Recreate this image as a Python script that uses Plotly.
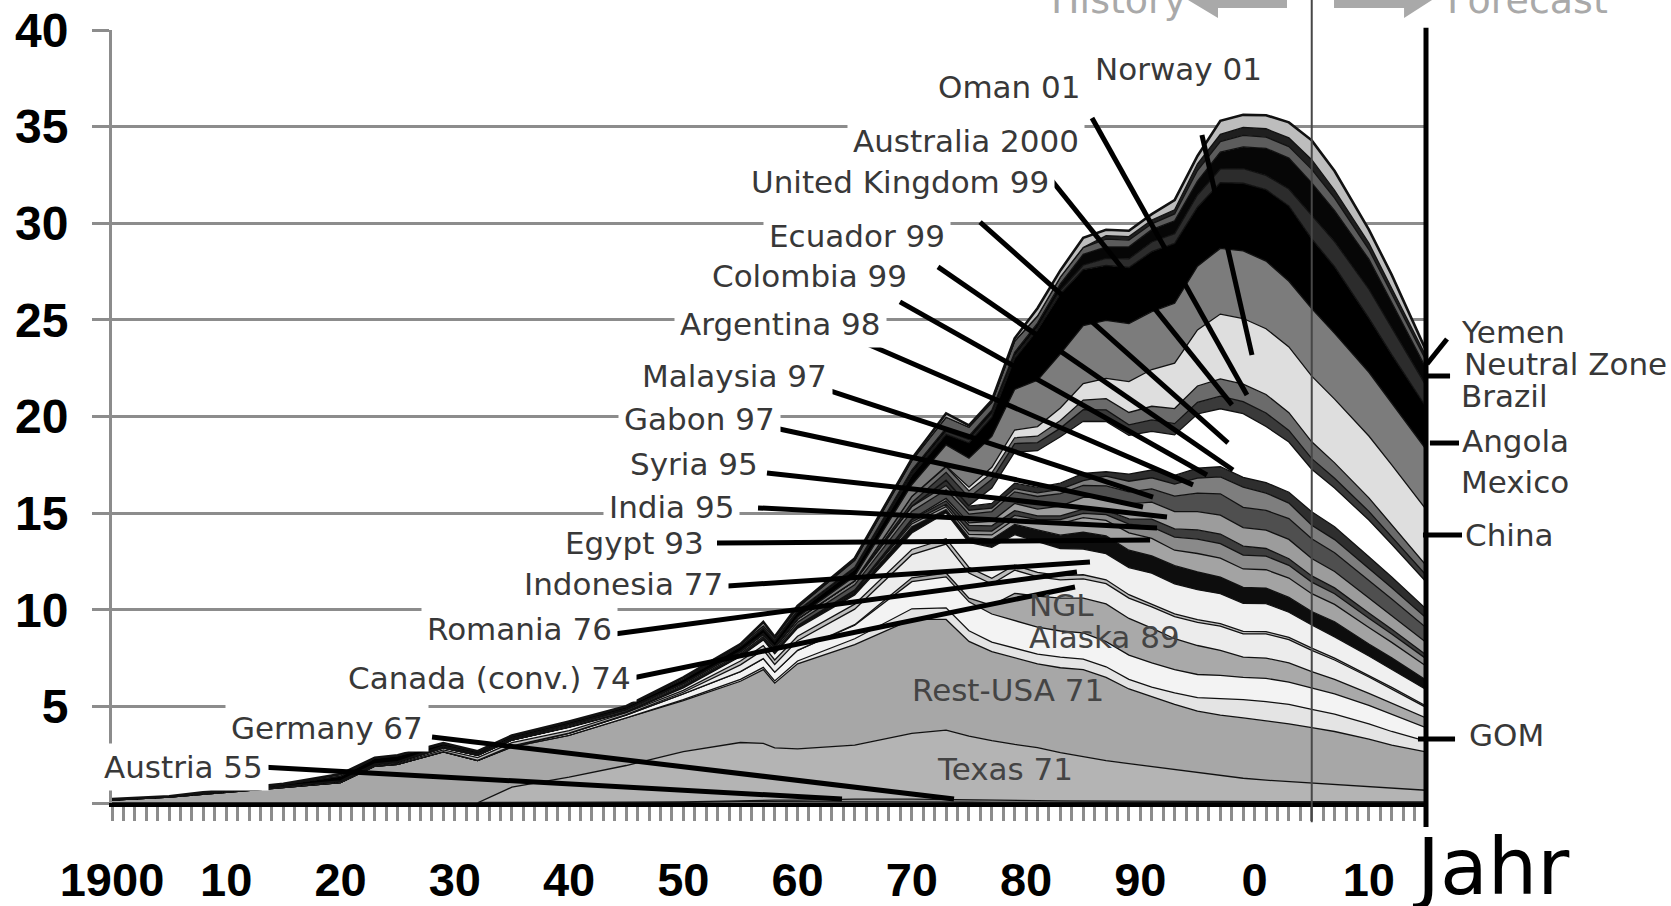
import plotly.graph_objects as go

# ---------------- data (Mb/d) ----------------
YEARS = [1900, 1905, 1910, 1915, 1920, 1923, 1925, 1929, 1932, 1935,
         1940, 1945, 1950, 1955, 1957, 1958, 1960, 1965, 1970, 1973,
         1975, 1977, 1979, 1981, 1983, 1985, 1987, 1989, 1991, 1993,
         1995, 1997, 1999, 2001, 2003, 2005, 2007, 2010, 2012, 2015]

austria = [0, 0, 0, 0, 0, 0, 0, 0, 0, 0.01,
           0.02, 0.02, 0.03, 0.07, 0.07, 0.07, 0.05, 0.05, 0.05, 0.04,
           0.04, 0.03, 0.03, 0.03, 0.03, 0.02, 0.02, 0.02, 0.02, 0.02,
           0.02, 0.02, 0.02, 0.02, 0.02, 0.02, 0.02, 0.02, 0.02, 0.02]
germany = [0.01, 0.01, 0.01, 0.01, 0.01, 0.01, 0.01, 0.01, 0.01, 0.01,
           0.02, 0.02, 0.03, 0.06, 0.07, 0.08, 0.10, 0.15, 0.15, 0.13,
           0.12, 0.10, 0.10, 0.09, 0.08, 0.08, 0.07, 0.07, 0.07, 0.06,
           0.06, 0.06, 0.06, 0.06, 0.06, 0.06, 0.05, 0.05, 0.05, 0.04]
texas = [0, 0, 0, 0, 0, 0, 0, 0, 0, 0.8,
         1.3, 1.9, 2.6, 3.0, 2.95, 2.7, 2.65, 2.8, 3.4, 3.6,
         3.3, 3.1, 2.9, 2.75, 2.5, 2.3, 2.1, 1.95, 1.8, 1.65,
         1.5, 1.38, 1.2, 1.1, 1.02, 0.95, 0.88, 0.78, 0.7, 0.6]
rest_usa = [0.14, 0.29, 0.54, 0.79, 1.04, 1.89, 1.99, 2.64, 2.19, 2.08,
            2.16, 2.46, 2.64, 3.17, 3.81, 3.35, 4.4, 5.2, 5.9, 5.73,
            4.9, 4.6, 4.47, 4.33, 4.39, 4.5, 4.31, 3.86, 3.61, 3.37,
            3.17, 3.09, 3.12, 3.07, 3.0, 2.87, 2.75, 2.45, 2.23, 1.99]
gom = [0, 0, 0, 0, 0, 0, 0, 0, 0, 0,
       0, 0, 0.05, 0.1, 0.12, 0.12, 0.15, 0.3, 0.55, 0.6,
       0.55, 0.5, 0.5, 0.5, 0.55, 0.55, 0.55, 0.5, 0.5, 0.6,
       0.7, 0.85, 0.95, 1.0, 1.0, 0.95, 0.9, 0.8, 0.7, 0.55]
ngl = [0, 0, 0, 0, 0, 0, 0, 0, 0, 0.03,
       0.1, 0.15, 0.3, 0.4, 0.45, 0.45, 0.55, 0.7, 1.4, 1.6,
       1.5, 1.45, 1.45, 1.4, 1.35, 1.35, 1.3, 1.25, 1.25, 1.2,
       1.2, 1.2, 1.15, 1.2, 1.15, 1.1, 1.05, 0.95, 0.9, 0.7]
alaska = [0, 0, 0, 0, 0, 0, 0, 0, 0, 0,
          0, 0, 0, 0, 0, 0, 0, 0.03, 0.2, 0.2,
          0.19, 0.45, 1.4, 1.6, 1.7, 1.8, 1.95, 1.9, 1.8, 1.6,
          1.5, 1.3, 1.05, 1.05, 1.0, 0.85, 0.75, 0.62, 0.55, 0.5]
canada = [0, 0, 0.005, 0.005, 0.005, 0.005, 0.005, 0.003, 0.003, 0.02,
          0.02, 0.02, 0.08, 0.35, 0.45, 0.4, 0.5, 0.8, 1.2, 1.5,
          1.3, 1.1, 1.2, 1.0, 0.95, 1.0, 1.05, 1.05, 1.1, 1.15,
          1.2, 1.25, 1.2, 1.25, 1.2, 1.1, 1.0, 0.85, 0.75, 0.55]
romania = [0.005, 0.01, 0.03, 0.03, 0.02, 0.03, 0.045, 0.09, 0.15, 0.17,
           0.12, 0.1, 0.1, 0.2, 0.22, 0.23, 0.23, 0.26, 0.27, 0.28,
           0.29, 0.3, 0.25, 0.23, 0.22, 0.21, 0.2, 0.18, 0.14, 0.14,
           0.14, 0.13, 0.13, 0.12, 0.12, 0.11, 0.1, 0.09, 0.08, 0.07]
indonesia = [0.005, 0.02, 0.03, 0.03, 0.05, 0.06, 0.06, 0.1, 0.11, 0.13,
             0.17, 0.02, 0.13, 0.23, 0.3, 0.32, 0.42, 0.48, 0.85, 1.34,
             1.3, 1.6, 1.59, 1.6, 1.4, 1.33, 1.35, 1.4, 1.6, 1.55,
             1.55, 1.55, 1.45, 1.45, 1.3, 1.2, 1.1, 1.0, 0.95, 0.85]
egypt = [0, 0, 0, 0.002, 0.003, 0.003, 0.003, 0.005, 0.005, 0.004,
         0.02, 0.03, 0.05, 0.04, 0.05, 0.06, 0.07, 0.13, 0.33, 0.17,
         0.24, 0.42, 0.53, 0.6, 0.69, 0.88, 0.92, 0.9, 0.9, 0.94,
         0.92, 0.86, 0.83, 0.8, 0.77, 0.7, 0.78, 0.62, 0.58, 0.5]
india = [0, 0, 0.005, 0.005, 0.005, 0.005, 0.005, 0.005, 0.005, 0.005,
         0.005, 0.005, 0.005, 0.005, 0.01, 0.01, 0.01, 0.07, 0.14, 0.15,
         0.17, 0.22, 0.27, 0.35, 0.6, 0.75, 0.8, 0.9, 0.9, 0.8,
         0.95, 0.98, 0.95, 0.95, 1.0, 0.92, 0.9, 0.85, 0.8, 0.72]
syria = [0, 0, 0, 0, 0, 0, 0, 0, 0, 0,
         0, 0, 0, 0, 0, 0, 0, 0, 0.1, 0.12,
         0.2, 0.2, 0.19, 0.18, 0.2, 0.22, 0.3, 0.45, 0.6, 0.68,
         0.75, 0.75, 0.72, 0.7, 0.66, 0.6, 0.55, 0.48, 0.44, 0.38]
gabon = [0, 0, 0, 0, 0, 0, 0, 0, 0, 0,
         0, 0, 0, 0, 0, 0, 0.02, 0.03, 0.12, 0.18,
         0.27, 0.27, 0.25, 0.2, 0.2, 0.22, 0.22, 0.27, 0.4, 0.42,
         0.47, 0.5, 0.46, 0.4, 0.34, 0.32, 0.3, 0.27, 0.24, 0.2]
malaysia = [0, 0, 0, 0.005, 0.005, 0.01, 0.01, 0.01, 0.01, 0.01,
            0.01, 0.005, 0.02, 0.015, 0.015, 0.015, 0.03, 0.02, 0.03, 0.12,
            0.13, 0.24, 0.37, 0.35, 0.5, 0.6, 0.67, 0.78, 0.88, 0.9,
            0.95, 0.98, 0.96, 0.95, 1.0, 0.9, 0.85, 0.78, 0.72, 0.65]
argentina = [0, 0, 0, 0, 0.005, 0.01, 0.015, 0.025, 0.035, 0.04,
             0.06, 0.07, 0.07, 0.09, 0.09, 0.1, 0.18, 0.27, 0.4, 0.45,
             0.45, 0.5, 0.6, 0.65, 0.65, 0.62, 0.6, 0.62, 0.68, 0.8,
             0.95, 1.1, 1.05, 1.02, 1.08, 1.02, 0.97, 0.9, 0.85, 0.76]
colombia = [0, 0, 0, 0, 0, 0.001, 0.003, 0.055, 0.045, 0.05,
            0.07, 0.06, 0.09, 0.11, 0.13, 0.13, 0.15, 0.2, 0.25, 0.22,
            0.2, 0.18, 0.17, 0.19, 0.22, 0.25, 0.5, 0.55, 0.58, 0.62,
            0.78, 0.88, 1.05, 0.9, 0.8, 0.7, 0.68, 0.63, 0.58, 0.5]
ecuador = [0, 0, 0, 0, 0, 0, 0, 0.005, 0.005, 0.005,
           0.006, 0.007, 0.007, 0.008, 0.008, 0.008, 0.008, 0.008, 0.005, 0.27,
           0.21, 0.24, 0.28, 0.28, 0.32, 0.37, 0.23, 0.37, 0.4, 0.45,
           0.52, 0.52, 0.5, 0.54, 0.56, 0.7, 0.67, 0.6, 0.55, 0.47]
uk = [0, 0, 0, 0, 0, 0, 0, 0, 0, 0,
      0, 0, 0, 0, 0, 0, 0, 0, 0.01, 0.01,
      0.03, 0.8, 1.6, 1.9, 2.4, 2.7, 2.6, 2.0, 2.0, 2.1,
      2.8, 3.0, 3.3, 2.9, 2.6, 2.2, 2.0, 1.9, 1.7, 1.4]
australia = [0, 0, 0, 0, 0, 0, 0, 0, 0, 0,
             0, 0, 0, 0, 0, 0, 0, 0.005, 0.18, 0.4,
             0.42, 0.45, 0.45, 0.42, 0.45, 0.6, 0.6, 0.55, 0.6, 0.58,
             0.6, 0.65, 0.62, 0.7, 0.6, 0.55, 0.5, 0.45, 0.4, 0.35]
oman = [0, 0, 0, 0, 0, 0, 0, 0, 0, 0,
        0, 0, 0, 0, 0, 0, 0, 0, 0.33, 0.29,
        0.34, 0.34, 0.3, 0.33, 0.39, 0.5, 0.58, 0.64, 0.7, 0.78,
        0.85, 0.9, 0.9, 0.96, 0.92, 0.87, 0.8, 0.7, 0.61, 0.5]
norway = [0, 0, 0, 0, 0, 0, 0, 0, 0, 0,
          0, 0, 0, 0, 0, 0, 0, 0, 0.005, 0.03,
          0.19, 0.28, 0.4, 0.5, 0.65, 0.85, 1.05, 1.6, 1.9, 2.35,
          2.9, 3.35, 3.4, 3.4, 3.4, 3.4, 3.3, 3.2, 3.1, 2.9]
china = [0, 0, 0, 0, 0, 0, 0, 0, 0, 0,
         0, 0, 0, 0, 0.03, 0.05, 0.1, 0.23, 0.6, 1.1,
         1.5, 1.6, 2.1, 2.4, 2.8, 3.0, 3.0, 3.0, 3.0, 3.1,
         3.3, 3.4, 3.5, 3.5, 3.4, 3.5, 3.4, 3.3, 3.2, 3.1]
mexico = [0, 0.002, 0.01, 0.09, 0.25, 0.3, 0.3, 0.12, 0.09, 0.11,
          0.12, 0.12, 0.2, 0.25, 0.24, 0.27, 0.27, 0.36, 0.49, 0.55,
          0.8, 1.0, 1.6, 2.6, 3.1, 2.9, 2.85, 2.9, 3.1, 3.1,
          3.05, 3.4, 3.5, 3.7, 3.9, 3.6, 3.45, 2.8, 2.5, 2.2]
angola = [0, 0, 0, 0, 0, 0, 0, 0, 0, 0,
          0, 0, 0, 0, 0, 0.001, 0.001, 0.013, 0.1, 0.16,
          0.17, 0.2, 0.15, 0.13, 0.18, 0.23, 0.36, 0.45, 0.5, 0.5,
          0.63, 0.71, 0.75, 0.74, 0.87, 1.2, 1.3, 1.5, 1.4, 1.1]
brazil = [0, 0, 0, 0, 0, 0, 0, 0, 0, 0,
          0.001, 0.001, 0.001, 0.006, 0.03, 0.05, 0.08, 0.09, 0.16, 0.17,
          0.18, 0.16, 0.17, 0.22, 0.34, 0.56, 0.6, 0.62, 0.64, 0.67,
          0.72, 0.87, 1.13, 1.4, 1.6, 1.7, 1.6, 1.55, 1.3, 0.9]
neutral_zone = [0, 0, 0, 0, 0, 0, 0, 0, 0, 0,
                0, 0, 0, 0.1, 0.12, 0.14, 0.15, 0.36, 0.5, 0.55,
                0.45, 0.4, 0.57, 0.37, 0.35, 0.35, 0.4, 0.35, 0.3, 0.35,
                0.55, 0.55, 0.6, 0.58, 0.6, 0.7, 0.65, 0.5, 0.45, 0.4]
yemen = [0, 0, 0, 0, 0, 0, 0, 0, 0, 0,
         0, 0, 0, 0, 0, 0, 0, 0, 0, 0,
         0, 0, 0, 0, 0, 0.01, 0.18, 0.18, 0.2, 0.22,
         0.35, 0.37, 0.41, 0.43, 0.45, 0.5, 0.4, 0.33, 0.28, 0.22]
others = [0.04, 0.02, 0.07, 0.03, 0.1, 0.02, 0.02, 0.03, 0.02, 0.02,
          0.02, 0.02, 0.1, 0.02, 0.2, 0.05, 0.08, 0.1, 0.1, 0.2,
          0.1, 0.1, 0.15, 0.4, 0.35, 0.5, 0.3, 0.3, 0.3, 0.5,
          0.4, 0.7, 0.65, 0.7, 0.8, 1.0, 1.0, 0.7, 0.7, 0.3]

X_TICKS = [1900, 1910, 1920, 1930, 1940, 1950, 1960, 1970, 1980, 1990, 2000, 2010]
X_TICK_TEXT = ["1900", "10", "20", "30", "40", "50", "60", "70", "80", "90", "0", "10"]
Y_TICKS = [0, 5, 10, 15, 20, 25, 30, 35, 40]
Y_TICK_TEXT = ["", "5", "10", "15", "20", "25", "30", "35", "40"]
X_RANGE = [1900, 2015]
FORECAST_START = 2005

# stacking order (bottom -> top) and fill shades
BANDS = [
    ("Austria", austria, "#8c8c8c"),
    ("Germany", germany, "#8c8c8c"),
    ("Texas", texas, "#b4b4b4"),
    ("Rest-USA", rest_usa, "#a7a7a7"),
    ("GOM", gom, "#e4e4e4"),
    ("NGL", ngl, "#f3f3f3"),
    ("Alaska", alaska, "#a9a9a9"),
    ("Canada (conv.)", canada, "#ececec"),
    ("Romania", romania, "#bdbdbd"),
    ("Indonesia", indonesia, "#f0f0f0"),
    ("Egypt", egypt, "#0d0d0d"),
    ("India", india, "#a3a3a3"),
    ("Syria", syria, "#8a8a8a"),
    ("Gabon", gabon, "#3d3d3d"),
    ("Malaysia", malaysia, "#9c9c9c"),
    ("Argentina", argentina, "#4f4f4f"),
    ("Colombia", colombia, "#7e7e7e"),
    ("Ecuador", ecuador, "#2e2e2e"),
    ("United Kingdom", uk, "#ffffff"),
    ("Australia", australia, "#3a3a3a"),
    ("Oman", oman, "#6b6b6b"),
    ("Norway", norway, "#dedede"),
    ("China", china, "#7c7c7c"),
    ("Mexico", mexico, "#000000"),
    ("Angola", angola, "#2c2c2c"),
    ("Brazil", brazil, "#060606"),
    ("Neutral Zone", neutral_zone, "#5c5c5c"),
    ("Yemen", yemen, "#1f1f1f"),
    ("Others", others, "#bdbdbd"),
]

# label text (x = right edge unless noted, y = centre), data coordinates
LEFT_LABELS = [
    ("Oman 01", 1985.33, 37.05, "right"),
    ("Norway 01", 1985.51, 37.98, "left"),
    ("Australia 2000", 1985.16, 34.26, "right"),
    ("United Kingdom 99", 1982.53, 32.13, "right"),
    ("Ecuador 99", 1973.43, 29.34, "right"),
    ("Colombia 99", 1970.10, 27.27, "right"),
    ("Argentina 98", 1967.83, 24.79, "right"),
    ("Malaysia 97", 1963.10, 22.10, "right"),
    ("Gabon 97", 1958.55, 19.87, "right"),
    ("Syria 95", 1957.06, 17.54, "right"),
    ("India 95", 1954.96, 15.32, "right"),
    ("Egypt 93", 1952.34, 13.45, "right"),
    ("Indonesia 77", 1954.00, 11.33, "right"),
    ("Romania 76", 1944.28, 9.00, "right"),
    ("Canada (conv.) 74", 1945.95, 6.47, "right"),
    ("Germany 67", 1927.74, 3.88, "right"),
    ("Austria 55", 1913.74, 1.86, "right"),
]
LEADERS = [
    (1995.39, 34.57, 1999.77, 23.18),
    (1985.77, 35.45, 1999.33, 21.11),
    (1980.95, 33.17, 1998.02, 20.60),
    (1975.97, 30.06, 1997.67, 18.63),
    (1972.29, 27.74, 1998.11, 17.23),
    (1968.96, 25.93, 1995.83, 16.97),
    (1965.90, 23.80, 1994.61, 16.46),
    (1961.79, 21.53, 1991.11, 15.83),
    (1957.59, 19.46, 1990.23, 15.32),
    (1957.32, 17.08, 1992.33, 14.80),
    (1956.54, 15.27, 1991.46, 14.23),
    (1952.95, 13.45, 1990.85, 13.61),
    (1952.60, 11.18, 1985.59, 12.47),
    (1943.32, 8.69, 1984.45, 11.95),
    (1943.85, 6.26, 1984.28, 11.18),
    (1928.01, 3.42, 1973.69, 0.21),
    (1913.04, 1.86, 1963.89, 0.21),
]
INNER_LABELS = [
    ("NGL", 1983.14, 10.25),
    ("Alaska 89", 1986.82, 8.59),
    ("Rest-USA 71", 1978.42, 5.85),
    ("Texas 71", 1978.15, 1.76),
]
# right-hand labels (paper coordinates, left edge / centre)
RIGHT_LABELS = [
    ("Yemen", 1.0251, 0.6093),
    ("Neutral Zone", 1.0274, 0.5679),
    ("Brazil", 1.0251, 0.5265),
    ("Angola", 1.0259, 0.4683),
    ("Mexico", 1.0251, 0.4153),
    ("China", 1.0282, 0.3467),
    ("GOM", 1.0312, 0.0880),
]
RIGHT_LEADERS = [
    (1.0008, 0.5679, 1.0160, 0.6003),
    (1.0015, 0.5524, 1.0183, 0.5524),
    (1.0030, 0.4657, 1.0251, 0.4657),
    (0.9977, 0.3467, 1.0274, 0.3467),
    (0.9939, 0.0828, 1.0221, 0.0828),
]

LABEL_FONT = dict(family="DejaVu Sans, Verdana, sans-serif", size=31, color="#383838")

# ---------------- figure ----------------
fig = go.Figure()
for i, (name, vals, shade) in enumerate(BANDS):
    top = i == len(BANDS) - 1
    fig.add_trace(go.Scatter(
        x=YEARS, y=vals, name=name, stackgroup="oil", mode="lines",
        line=dict(color="#111111", width=2.6 if top else 1.3),
        fillcolor=shade, hoverinfo="skip", showlegend=False))

shapes = []
for x0, y0, x1, y1 in LEADERS:
    shapes.append(dict(type="line", xref="x", yref="y", x0=x0, y0=y0, x1=x1, y1=y1,
                       line=dict(color="black", width=5), layer="above"))
for x0, y0, x1, y1 in RIGHT_LEADERS:
    shapes.append(dict(type="line", xref="paper", yref="paper", x0=x0, y0=y0, x1=x1, y1=y1,
                       line=dict(color="black", width=5), layer="above"))

fx = (FORECAST_START - X_RANGE[0]) / (X_RANGE[1] - X_RANGE[0])
shapes.append(dict(type="line", xref="paper", yref="paper", x0=fx, x1=fx, y0=-0.025, y1=1.045,
                   line=dict(color="#474747", width=2), layer="above"))
shapes.append(dict(type="line", xref="paper", yref="paper", x0=1.0, x1=1.0, y0=-0.031, y1=1.003,
                   line=dict(color="black", width=5), layer="above"))
# history / forecast arrows (partly above the page, as in the original)
shapes.append(dict(type="path", xref="paper", yref="paper", layer="above",
                   path="M 0.8189 1.0388 L 0.8417 1.0621 L 0.8417 1.0492 L 0.8942 1.0492 "
                        "L 0.8942 1.0285 L 0.8417 1.0285 L 0.8417 1.0155 Z",
                   fillcolor="#a9a9a9", line=dict(width=0)))
shapes.append(dict(type="path", xref="paper", yref="paper", layer="above",
                   path="M 1.0046 1.0388 L 0.9833 1.0621 L 0.9833 1.0492 L 0.9300 1.0492 "
                        "L 0.9300 1.0285 L 0.9833 1.0285 L 0.9833 1.0155 Z",
                   fillcolor="#a9a9a9", line=dict(width=0)))

annotations = []
for text, x, y, anchor in LEFT_LABELS:
    annotations.append(dict(text=text, x=x, y=y, xref="x", yref="y", xanchor=anchor,
                            yanchor="middle", showarrow=False, font=LABEL_FONT,
                            bgcolor="white", borderpad=5))
for text, x, y in INNER_LABELS:
    annotations.append(dict(text=text, x=x, y=y, xref="x", yref="y", xanchor="center",
                            yanchor="middle", showarrow=False,
                            font=dict(family=LABEL_FONT["family"], size=31, color="#444444")))
for text, x, y in RIGHT_LABELS:
    annotations.append(dict(text=text, x=x, y=y, xref="paper", yref="paper", xanchor="left",
                            yanchor="middle", showarrow=False, font=LABEL_FONT))
annotations.append(dict(text="History", x=0.8189, y=1.008, xref="paper", yref="paper",
                        xanchor="right", yanchor="bottom", showarrow=False,
                        font=dict(family=LABEL_FONT["family"], size=38, color="#a9a9a9")))
annotations.append(dict(text="Forecast", x=1.0145, y=1.008, xref="paper", yref="paper",
                        xanchor="left", yanchor="bottom", showarrow=False,
                        font=dict(family=LABEL_FONT["family"], size=38, color="#a9a9a9")))
annotations.append(dict(text="Jahr", x=0.988, y=-0.1436, xref="paper", yref="paper",
                        xanchor="left", yanchor="bottom", showarrow=False,
                        font=dict(family="DejaVu Sans, sans-serif", size=78, color="black")))

fig.update_layout(
    template="none",
    width=1671, height=906,
    margin=dict(l=112, r=245, t=30, b=103, autoexpand=False),
    paper_bgcolor="white", plot_bgcolor="white",
    showlegend=False,
    shapes=shapes, annotations=annotations,
    xaxis=dict(range=X_RANGE, tickmode="array", tickvals=X_TICKS, ticktext=X_TICK_TEXT,
               ticks="outside", ticklen=14, tickwidth=3, tickcolor="#8c8c8c",
               minor=dict(tickmode="linear", tick0=1900, dtick=1, ticks="outside",
                          ticklen=14, tickwidth=3, tickcolor="#8c8c8c", showgrid=False),
               showgrid=False, zeroline=False, showline=True, linecolor="black", linewidth=4,
               tickfont=dict(family="Liberation Sans, Arial, sans-serif", size=47,
                             color="black", weight="bold"),
               ticklabelstandoff=19, automargin=False, fixedrange=True),
    yaxis=dict(range=[0, 40], tickmode="array", tickvals=Y_TICKS, ticktext=Y_TICK_TEXT,
               ticks="outside", ticklen=17, tickwidth=3, tickcolor="#8c8c8c",
               showgrid=True, gridcolor="#8c8c8c", gridwidth=3, zeroline=False,
               showline=True, linecolor="#8c8c8c", linewidth=3,
               tickfont=dict(family="Liberation Sans, Arial, sans-serif", size=48,
                             color="black", weight="bold"),
               ticklabelstandoff=14, automargin=False, fixedrange=True),
)

fig.write_html("out.html", config={"displayModeBar": False},
               post_script="document.body.style.margin='0';document.body.style.overflow='hidden';")
